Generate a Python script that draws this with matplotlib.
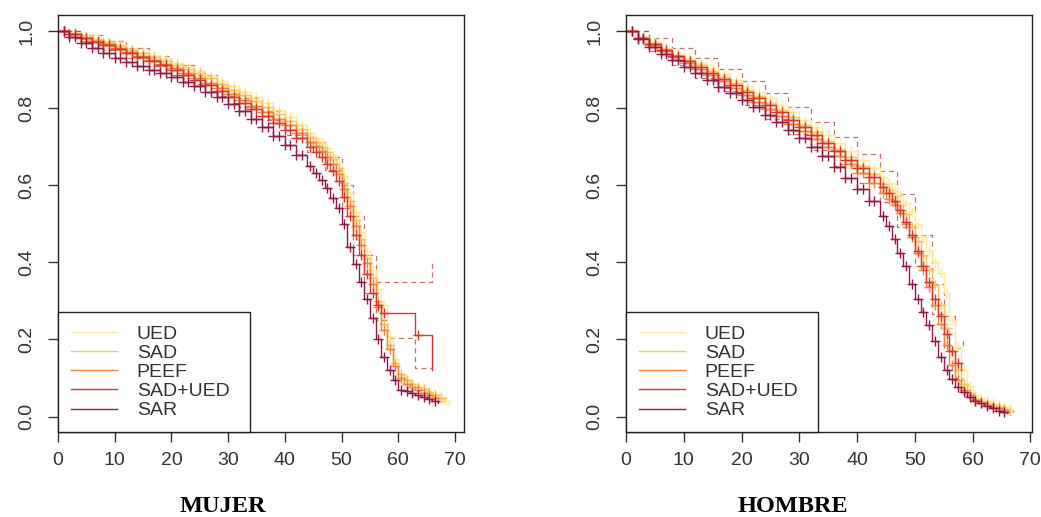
#!/usr/bin/env python3
"""Kaplan-Meier style survival curves by group, women vs men."""

import matplotlib
matplotlib.use("Agg")
import matplotlib.pyplot as plt
import numpy as np
from matplotlib.lines import Line2D

nan = np.nan

GROUPS = ["UED", "SAD", "PEEF", "SAD+UED", "SAR"]
COLORS = ["#FFEB9A", "#FCC45C", "#F4843A", "#D9392B", "#961845"]
CI_COLOR = "#B8503F"

# common time grid (years)
TIMES = [0, 2, 4, 6, 8, 10, 12, 14, 16, 18, 20, 22, 24, 26, 28, 30, 32, 34, 36, 38, 40, 42, 44,
         45, 46, 47, 48, 49, 50, 51, 52, 53, 54, 55, 56, 57, 58, 59, 60, 61, 62, 63, 64, 65, 66,
         67, 68, 69]

# ---- MUJER ----
mujer_ued = [1.0, 0.994, 0.987, 0.979, 0.971, 0.963, 0.954, 0.945, 0.936, 0.927, 0.917, 0.907,
             0.896, 0.884, 0.871, 0.857, 0.843, 0.828, 0.812, 0.795, 0.777, 0.757, 0.735,
             0.723, 0.710, 0.696, 0.679, 0.658, 0.625, 0.580, 0.530, 0.480, 0.430, 0.380, 0.330,
             0.290, 0.210, 0.150, 0.110, 0.095, 0.085, 0.078, 0.072, 0.065, 0.058, 0.050, 0.040,
             0.030]
mujer_sad = [1.0, 0.993, 0.985, 0.977, 0.969, 0.960, 0.951, 0.942, 0.933, 0.923, 0.913, 0.902,
             0.890, 0.877, 0.863, 0.848, 0.833, 0.818, 0.802, 0.785, 0.767, 0.747, 0.725,
             0.713, 0.700, 0.686, 0.668, 0.645, 0.605, 0.560, 0.510, 0.460, 0.412, 0.360, 0.300,
             0.240, 0.185, 0.140, 0.110, 0.095, 0.085, 0.078, 0.072, 0.065, 0.057, 0.048, 0.038,
             nan]
mujer_peef = [1.0, 0.992, 0.983, 0.974, 0.965, 0.956, 0.946, 0.936, 0.926, 0.915, 0.904, 0.892,
              0.879, 0.866, 0.852, 0.837, 0.822, 0.806, 0.790, 0.773, 0.755, 0.735, 0.713,
              0.701, 0.688, 0.673, 0.655, 0.630, 0.590, 0.545, 0.495, 0.445, 0.398, 0.345, 0.285,
              0.225, 0.175, 0.130, 0.100, 0.085, 0.078, 0.070, 0.062, 0.055, 0.048, 0.040, nan,
              nan]
mujer_sadued = [1.0, 0.991, 0.982, 0.972, 0.963, 0.953, 0.943, 0.933, 0.922, 0.911, 0.899, 0.887,
                0.874, 0.860, 0.845, 0.830, 0.814, 0.797, 0.780, 0.762, 0.743, 0.722, 0.699,
                0.686, 0.672, 0.656, 0.637, 0.610, 0.570, 0.520, 0.470, 0.420, 0.370, 0.320, 0.290,
                0.268, 0.268, 0.268, 0.268, 0.268, 0.268, 0.212, 0.212, 0.212, 0.121, nan, nan,
                nan]
mujer_sar = [1.0, 0.985, 0.970, 0.956, 0.943, 0.931, 0.920, 0.910, 0.900, 0.891, 0.881, 0.869,
             0.857, 0.843, 0.828, 0.811, 0.793, 0.773, 0.751, 0.728, 0.704, 0.679, 0.650,
             0.633, 0.614, 0.592, 0.567, 0.540, 0.500, 0.440, 0.395, 0.350, 0.305, 0.255, 0.200,
             0.155, 0.120, 0.095, 0.070, 0.066, 0.061, 0.057, 0.052, 0.046, 0.040, 0.035, nan,
             nan]
# confidence band of SAD+UED (dashed)
mujer_ci_times = [0, 4, 8, 12, 16, 20, 24, 28, 32, 36, 40, 44, 47, 50, 52, 54, 56, 58, 63, 66]
mujer_ci_upper = [1.0, 0.990, 0.975, 0.955, 0.934, 0.911, 0.886, 0.858, 0.826, 0.792, 0.755,
                  0.712, 0.672, 0.600, 0.520, 0.420, 0.350, 0.350, 0.350, 0.400]
mujer_ci_lower = [1.0, 0.974, 0.951, 0.931, 0.910, 0.887, 0.862, 0.832, 0.802, 0.768, 0.731,
                  0.686, 0.640, 0.540, 0.420, 0.320, 0.250, 0.204, 0.126, 0.126]

# ---- HOMBRE ----
hombre_ued = [1.0, 0.985, 0.971, 0.957, 0.944, 0.931, 0.918, 0.904, 0.889, 0.874, 0.858, 0.842,
              0.825, 0.807, 0.789, 0.770, 0.751, 0.731, 0.710, 0.688, 0.666, 0.644, 0.620,
              0.607, 0.592, 0.575, 0.555, 0.530, 0.500, 0.465, 0.430, 0.400, 0.372, 0.320, 0.250,
              0.180, 0.120, 0.080, 0.055, 0.047, 0.040, 0.035, 0.030, 0.025, 0.020, 0.015, nan,
              nan]
hombre_sad = [1.0, 0.983, 0.968, 0.953, 0.939, 0.926, 0.912, 0.897, 0.881, 0.865, 0.848, 0.831,
              0.813, 0.795, 0.776, 0.757, 0.737, 0.716, 0.695, 0.673, 0.651, 0.628, 0.603,
              0.588, 0.571, 0.550, 0.525, 0.492, 0.455, 0.418, 0.380, 0.340, 0.290, 0.230, 0.170,
              0.120, 0.085, 0.060, 0.045, 0.040, 0.035, 0.030, 0.025, 0.020, 0.015, 0.012, nan,
              nan]
hombre_peef = [1.0, 0.981, 0.964, 0.948, 0.932, 0.917, 0.902, 0.886, 0.870, 0.853, 0.835, 0.817,
               0.798, 0.779, 0.760, 0.740, 0.719, 0.698, 0.676, 0.654, 0.631, 0.607, 0.580,
               0.565, 0.548, 0.528, 0.500, 0.465, 0.425, 0.380, 0.335, 0.290, 0.240, 0.185, 0.135,
               0.095, 0.070, 0.055, 0.042, 0.036, 0.030, 0.026, 0.022, 0.017, 0.012, nan, nan,
               nan]
hombre_sadued = [1.0, 0.982, 0.966, 0.951, 0.936, 0.922, 0.907, 0.892, 0.876, 0.860, 0.843, 0.826,
                 0.808, 0.789, 0.770, 0.750, 0.730, 0.709, 0.688, 0.666, 0.644, 0.621, 0.596,
                 0.580, 0.560, 0.535, 0.505, 0.470, 0.430, 0.390, 0.350, 0.305, 0.260, 0.215,
                 0.170, 0.140, 0.120, nan, nan, nan, nan, nan, nan, nan, nan, nan, nan, nan]
hombre_sar = [1.0, 0.978, 0.959, 0.941, 0.924, 0.907, 0.890, 0.873, 0.856, 0.838, 0.820, 0.802,
              0.783, 0.763, 0.743, 0.722, 0.700, 0.677, 0.648, 0.620, 0.590, 0.560, 0.520,
              0.495, 0.460, 0.425, 0.390, 0.345, 0.305, 0.270, 0.238, 0.195, 0.155, 0.120, 0.098,
              0.078, 0.065, 0.050, 0.040, 0.034, 0.028, 0.022, 0.015, 0.011, 0.008, nan, nan,
              nan]
hombre_ci_times = [0, 4, 8, 12, 16, 20, 24, 28, 32, 36, 40, 44, 47, 50, 53, 55, 57, 58.4]
hombre_ci_upper = [1.0, 0.982, 0.956, 0.930, 0.902, 0.870, 0.838, 0.802, 0.764, 0.724, 0.682,
                   0.636, 0.578, 0.470, 0.345, 0.260, 0.177, 0.207]
hombre_ci_lower = [1.0, 0.947, 0.912, 0.879, 0.844, 0.808, 0.771, 0.732, 0.692, 0.650, 0.605,
                   0.556, 0.492, 0.390, 0.265, 0.170, 0.100, 0.100]

PANELS = [
    ("MUJER", [mujer_ued, mujer_sad, mujer_peef, mujer_sadued, mujer_sar],
     mujer_ci_times, mujer_ci_upper, mujer_ci_lower, 71.6),
    ("HOMBRE", [hombre_ued, hombre_sad, hombre_peef, hombre_sadued, hombre_sar],
     hombre_ci_times, hombre_ci_upper, hombre_ci_lower, 70.3),
]

W, H = 1041, 517
AX_LEFT = [58, 626]
AX_WIDTH = 406
AX_TOP, AX_BOTTOM = 15, 432
TITLE_X = [223, 793]


def censor_marks(t, s):
    """Marks in the middle of each step, plus at the corner of the long (2-year) steps."""
    xs, ys = [], []
    for i in range(len(t) - 1):
        if i > 0 and s[i] == s[i - 1]:
            continue
        xs.append((t[i] + t[i + 1]) / 2)
        ys.append(s[i])
        if i > 0 and t[i + 1] - t[i] >= 2:
            xs.append(t[i])
            ys.append(s[i])
    return xs, ys


def draw_panel(ax, curves, ci_t, ci_up, ci_lo, xmax):
    t = np.array(TIMES, dtype=float)
    ax.step(ci_t, ci_up, where="post", color=CI_COLOR, lw=0.9, ls=(0, (4, 3)), alpha=0.8)
    ax.step(ci_t, ci_lo, where="post", color=CI_COLOR, lw=0.9, ls=(0, (4, 3)), alpha=0.8)
    for values, color in zip(curves, COLORS):
        s = np.array(values, dtype=float)
        ok = ~np.isnan(s)
        ts, ss = t[ok], s[ok]
        ax.step(ts, ss, where="post", color=color, lw=1.0)
        mx, my = censor_marks(ts, ss)
        ax.plot(mx, my, ls="none", marker="+", ms=7, mew=1.0, color=color)

    ax.set_xlim(0, xmax)
    ax.set_ylim(-0.04, 1.0415)
    ax.set_xticks(range(0, 71, 10))
    ax.set_yticks([0.0, 0.2, 0.4, 0.6, 0.8, 1.0])
    ax.set_yticklabels(["0.0", "0.2", "0.4", "0.6", "0.8", "1.0"])
    ax.tick_params(direction="out", length=7.5, width=1.0, color="#333333",
                   labelcolor="#333333", labelsize=14)
    ax.tick_params(axis="x", pad=7)
    ax.tick_params(axis="y", pad=9, labelrotation=90)
    for label in ax.get_yticklabels():
        label.set_va("center")
    for spine in ax.spines.values():
        spine.set_color("#222222")
        spine.set_linewidth(1.0)

    handles = [Line2D([], [], color=c, lw=1.0) for c in COLORS]
    legend = ax.legend(
        handles, GROUPS, loc="lower left", bbox_to_anchor=(0, 0, 192 / AX_WIDTH, 1),
        mode="expand", borderaxespad=0, fontsize=14, handlelength=2.4,
        handletextpad=1.0, labelspacing=0.08, borderpad=0.65, fancybox=False,
        framealpha=1.0, edgecolor="#222222",
    )
    legend.get_frame().set_linewidth(1.0)
    for text in legend.get_texts():
        text.set_color("#333333")


def main():
    plt.rcParams["font.family"] = ["Liberation Sans", "DejaVu Sans"]
    fig = plt.figure(figsize=(W / 100, H / 100), dpi=100)
    for i, (title, curves, ci_t, ci_up, ci_lo, xmax) in enumerate(PANELS):
        ax = fig.add_axes([AX_LEFT[i] / W, 1 - AX_BOTTOM / H, AX_WIDTH / W,
                           (AX_BOTTOM - AX_TOP) / H])
        draw_panel(ax, curves, ci_t, ci_up, ci_lo, xmax)
        fig.text(TITLE_X[i] / W, 1 - 507 / H, title, ha="center", va="center",
                 fontsize=17.5, fontweight="bold", family=["Liberation Serif", "DejaVu Serif"])
    fig.savefig("out.png", dpi=100, facecolor="white")


if __name__ == "__main__":
    main()
